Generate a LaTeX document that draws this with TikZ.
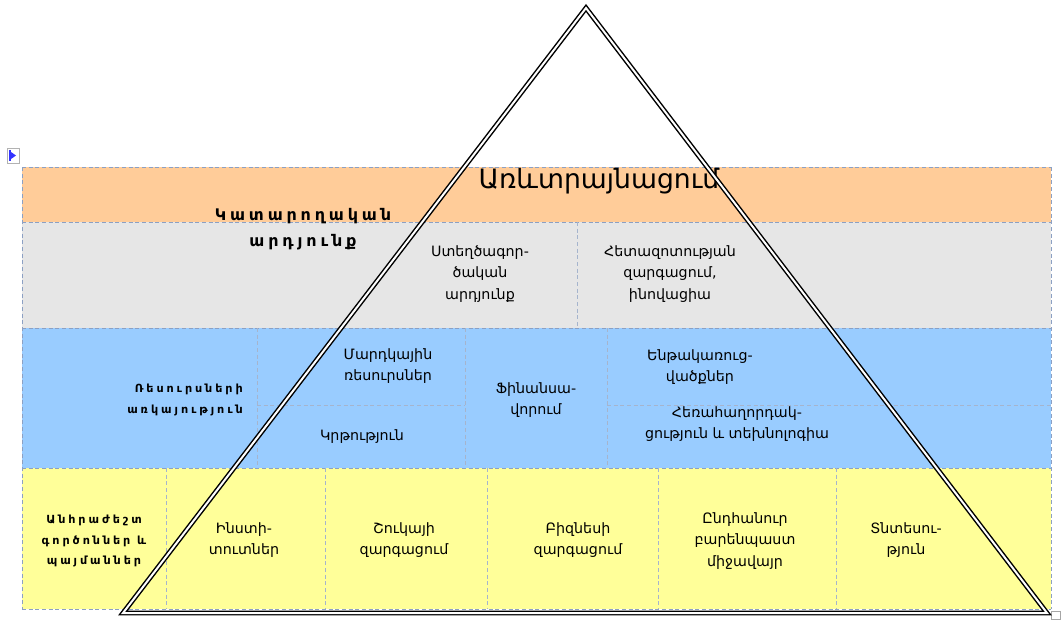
\documentclass[tikz,border=0pt]{standalone}
\usepackage{fontspec}
\setmainfont{DejaVu Sans}
\newfontfamily\widefont[LetterSpace=24]{DejaVu Sans}
\newfontfamily\xwidefont[LetterSpace=26]{DejaVu Sans}
\usepackage{tikz}

\definecolor{peach}{RGB}{255,204,153}
\definecolor{greyband}{RGB}{230,230,230}
\definecolor{skyband}{RGB}{153,204,255}
\definecolor{lemon}{RGB}{255,255,153}
\definecolor{framecol}{RGB}{140,160,195}
\definecolor{divcol}{RGB}{165,180,205}

\begin{document}
\begin{tikzpicture}[
    x=0.75pt, y=-0.75pt,
    band/.style={draw=framecol, densely dashed, line width=0.6pt},
    divider/.style={draw=divcol, densely dashed, line width=0.5pt},
    cell/.style={align=center, inner sep=0pt, font=\fontsize{10.7}{15.8}\selectfont},
    head/.style={align=center, inner sep=0pt, font=\widefont\bfseries\fontsize{12}{19.5}\selectfont},
    subhead/.style={inner sep=0pt, font=\xwidefont\bfseries\fontsize{8.4}{15.2}\selectfont},
    pyramid/.style={double=white, draw=black, line width=1.1pt, double distance=1.5pt, line join=miter}
]
\useasboundingbox (0,0) rectangle (1063,619);

% Bands
\fill[peach] (22,167) rectangle (1051,222);
\fill[greyband] (22,222) rectangle (1051,328);
\fill[skyband] (22,328) rectangle (1051,468);
\fill[lemon] (22,468) rectangle (1051,609);
\foreach \y in {167,222,328,468,609}
  \draw[band] (22,\y) -- (1051,\y);
\draw[band] (22,167) -- (22,609);
\draw[band] (1051,167) -- (1051,609);

% Dividers
\draw[divider] (577,222) -- (577,328);
\foreach \x in {257,465,607}
  \draw[divider] (\x,328) -- (\x,468);
\draw[divider] (257,405) -- (465,405);
\draw[divider] (607,405) -- (1051,405);
\foreach \x in {166,325,487,658,836}
  \draw[divider] (\x,468) -- (\x,609);

% Handles
\draw[gray!60, fill=white] (7,148) rectangle (19,163);
\draw[blue!80, line width=0.8pt] (10,150) -- (10,161);
\fill[blue!80] (11,152) -- (16,155.5) -- (11,159) -- cycle;
\draw[gray!70, fill=white] (1051,611) rectangle (1060,619);

% Labels
\node[cell, font=\fontsize{20}{24}\selectfont] (trade) at (599,181) {Առևտրայնացում};
\node[head] (perf) at (303,229) {Կատարողական\\արդյունք};
\node[cell] (creative) at (480,274) {Ստեղծագոր-\\ծական\\արդյունք};
\node[cell] (research) at (670,274) {Հետազոտության\\զարգացում,\\ինովացիա};

\node[subhead, align=right, anchor=east] (avail) at (243,400) {Ռեսուրսների\\առկայություն};
\node[cell] (human) at (388,366) {Մարդկային\\ռեսուրսներ};
\node[cell] (edu) at (362,437) {Կրթություն};
\node[cell] (finance) at (536,400) {Ֆինանսա-\\վորում};
\node[cell] (infra) at (700,367) {Ենթակառուց-\\վածքներ};
\node[cell] (telecom) at (737,424) {Հեռահաղորդակ-\\ցություն և տեխնոլոգիա};

\node[subhead, align=center] (needs) at (94,541) {Անհրաժեշտ\\գործոններ և\\պայմաններ};
\node[cell] (inst) at (244,540) {Ինստի-\\տուտներ};
\node[cell] (market) at (404,540) {Շուկայի\\զարգացում};
\node[cell] (business) at (578,540) {Բիզնեսի\\զարգացում};
\node[cell] (climate) at (745,541) {Ընդհանուր\\բարենպաստ\\միջավայր};
\node[cell] (economy) at (906,540) {Տնտեսու-\\թյուն};

% Pyramid
\coordinate (apex) at (586,8);
\coordinate (baseL) at (123,613);
\coordinate (baseR) at (1047,613);
\draw[pyramid] (apex) -- (baseR) -- (baseL) -- cycle;

\end{tikzpicture}
\end{document}
